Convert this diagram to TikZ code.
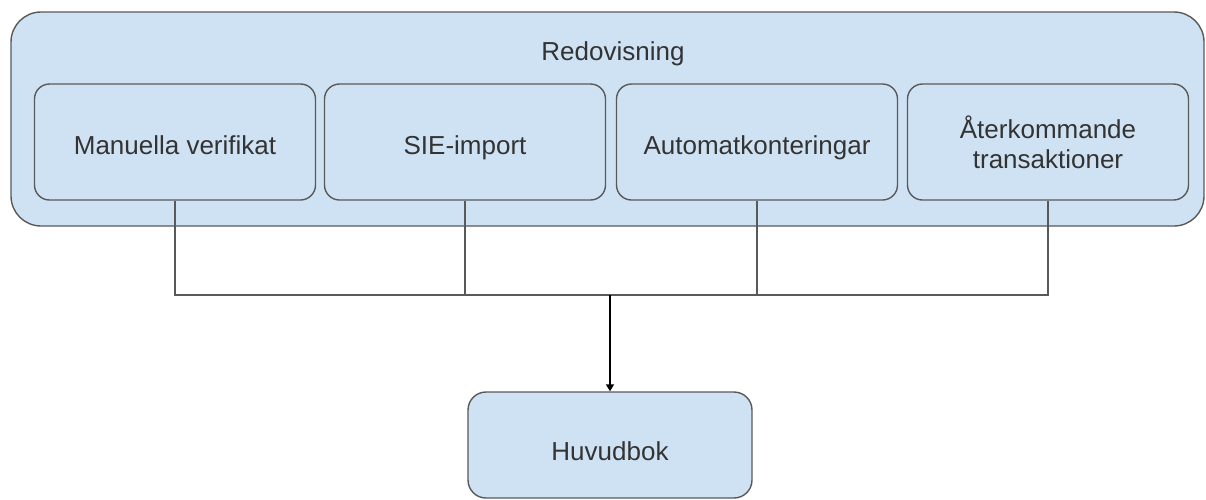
\documentclass[tikz,border=0pt]{standalone}
\usepackage{fontspec}
\setmainfont{Liberation Sans}
\usetikzlibrary{arrows.meta}
\definecolor{boxfill}{HTML}{CFE2F3}
\definecolor{boxline}{HTML}{595959}
\definecolor{txt}{HTML}{333333}
\tikzset{
  labeltext/.style={text=txt, font=\fontsize{26}{30}\selectfont},
  outerbox/.style={draw=boxline, line width=1.4pt, fill=boxfill, rounded corners=30pt},
  subbox/.style={labeltext, draw=boxline, line width=1.4pt, fill=boxfill, rounded corners=15pt,
    minimum width=281pt, minimum height=116pt, inner sep=0pt, align=center},
  oneline/.style={text height=24pt, text depth=0pt},
  mainbox/.style={labeltext, draw=boxline, line width=1.4pt, fill=boxfill, rounded corners=18pt,
    minimum width=284pt, minimum height=106pt, inner sep=0pt,
    text height=31pt, text depth=0pt},
  link/.style={draw=boxline, line width=1.3pt},
  flow/.style={draw=black, line width=1.4pt, -{Triangle[length=7pt,width=8pt]}}
}
\begin{document}
\begin{tikzpicture}[x=1pt,y=-1pt]
\useasboundingbox (0,0) rectangle (1206,499);
% enclosing group
\path[outerbox] (11,12) rectangle (1204,226);
\node[labeltext] (redov) at (613,54) {Redovisning};
% sources
\node[subbox, oneline] (manuella) at (175,142) {Manuella verifikat};
\node[subbox, oneline] (sie) at (465,142) {SIE-import};
\node[subbox, oneline] (auto) at (757,142) {Automatkonteringar};
\node[subbox] (ater) at (1048,142) {Återkommande\\transaktioner};
% ledger
\node[mainbox] (huvud) at (610,445) {Huvudbok};
% collecting bus
\coordinate (bus) at (610,295);
\draw[link] (manuella.south) |- (bus);
\draw[link] (sie.south) |- (bus);
\draw[link] (auto.south) |- (bus);
\draw[link] (ater.south) |- (bus);
\draw[flow] (bus) -- (huvud.north);
\end{tikzpicture}
\end{document}
